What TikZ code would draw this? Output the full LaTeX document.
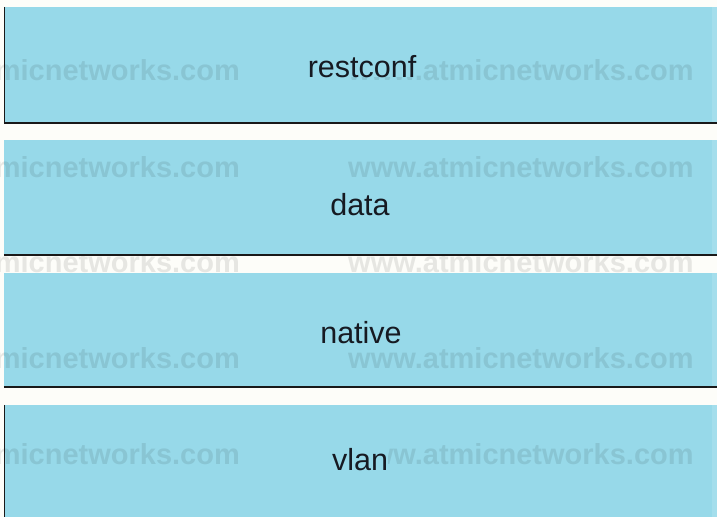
\documentclass[tikz,border=0pt]{standalone}
\usepackage{fontspec}
\setmainfont{Liberation Sans}
\definecolor{boxblue}{RGB}{151,217,233}
\definecolor{edgeblue}{RGB}{164,222,236}
\definecolor{labelink}{RGB}{22,26,34}
\definecolor{bandwhite}{RGB}{253,253,249}
\begin{document}
\begin{tikzpicture}[x=1pt,y=-1pt,
  band/.style={rectangle,fill=boxblue,draw=none,inner sep=0pt,minimum width=713pt},
  frame/.style={draw=black!90,line width=1.6pt},
  lbl/.style={anchor=base,fill=boxblue,inner sep=0pt,text=labelink,
    font=\fontsize{30.5}{32}\selectfont},
  wm/.style={inner sep=0pt,text=black,opacity=0.09,
    font=\fontsize{29}{30}\selectfont\bfseries}]
  \useasboundingbox (0,0) rectangle (717,517);
  \fill[bandwhite] (0,0) rectangle (717,517);

  % the four layers
  \node[band,minimum height=116pt] (b1) at (360.5,65) {};
  \node[band,minimum height=115pt] (b2) at (360.5,197.5) {};
  \node[band,minimum height=114pt] (b3) at (360.5,330) {};
  \node[band,minimum height=112pt] (b4) at (360.5,461) {};

  % lighter strip along the right edge
  \foreach \b in {b1,b2,b3,b4}
    \fill[edgeblue] ([xshift=-5pt]\b.north east) rectangle (\b.south east);

  % watermark rows
  \foreach \yy in {80,177,368,464} {
    \node[wm,anchor=base east] at (240,\yy) {www.atmicnetworks.com};
    \node[wm,anchor=base west] at (348,\yy) {www.atmicnetworks.com};
  }
  \begin{scope}
    \clip (0,256.5) rectangle (717,272.5);
    \node[wm,anchor=base east] at (240,272) {www.atmicnetworks.com};
    \node[wm,anchor=base west] at (348,272) {www.atmicnetworks.com};
  \end{scope}

  % black edges
  \draw[frame] ([xshift=0.8pt]b1.north west) -- ([xshift=0.8pt]b1.south west);
  \draw[frame] (b1.south west) -- (b1.south east);
  \draw[frame] (b2.south west) -- (b2.south east);
  \draw[frame] (b3.south west) -- (b3.south east);
  \draw[frame] ([xshift=0.8pt]b4.north west) -- ([xshift=0.8pt]b4.south west);

  % labels
  \node[lbl] (t1) at (362,77) {restconf};
  \node[lbl] (t2) at (360,215) {data};
  \node[lbl] (t3) at (361,343) {native};
  \node[lbl] (t4) at (360,470) {vlan};
\end{tikzpicture}
\end{document}
